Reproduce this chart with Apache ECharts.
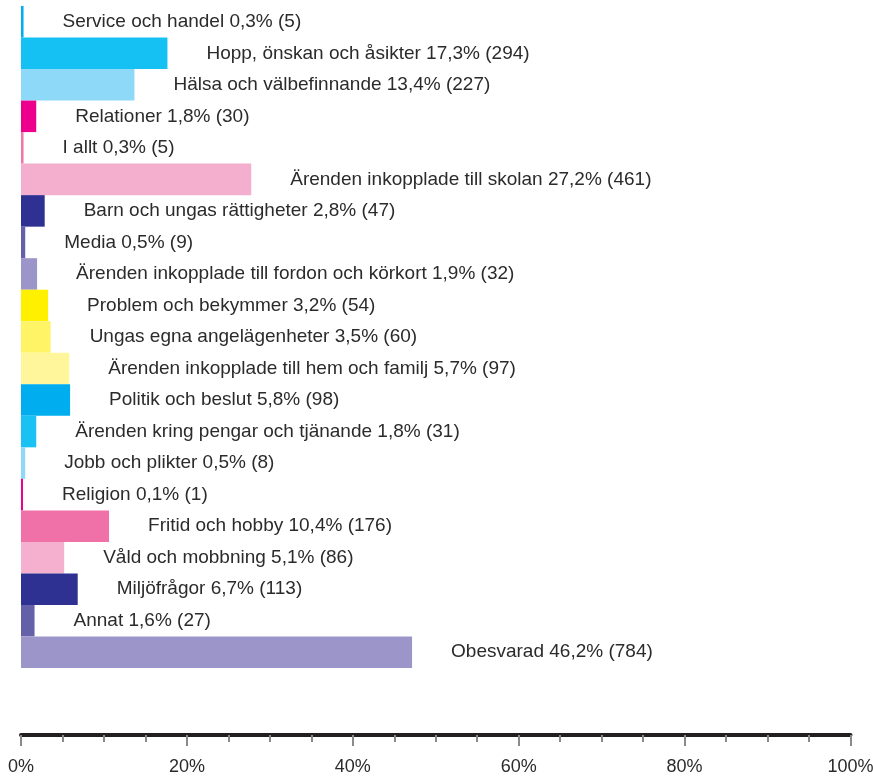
<!DOCTYPE html>
<html>
<head>
<meta charset="utf-8">
<script src="https://cdn.jsdelivr.net/npm/echarts@6/dist/echarts.min.js"></script>
<style>
  html, body { margin: 0; padding: 0; background: #fff; }
  #chart { width: 873px; height: 778px; }
</style>
</head>
<body>
<div id="chart"></div>
<script>
  // kategorier uppifrån och ner
  var categories = [
    'Service och handel', 'Hopp, önskan och åsikter', 'Hälsa och välbefinnande',
    'Relationer', 'I allt', 'Ärenden inkopplade till skolan',
    'Barn och ungas rättigheter', 'Media', 'Ärenden inkopplade till fordon och körkort',
    'Problem och bekymmer', 'Ungas egna angelägenheter', 'Ärenden inkopplade till hem och familj',
    'Politik och beslut', 'Ärenden kring pengar och tjänande', 'Jobb och plikter',
    'Religion', 'Fritid och hobby', 'Våld och mobbning',
    'Miljöfrågor', 'Annat', 'Obesvarad'
  ];
  var percents = [0.3, 17.3, 13.4, 1.8, 0.3, 27.2, 2.8, 0.5, 1.9, 3.2, 3.5, 5.7, 5.8, 1.8, 0.5, 0.1, 10.4, 5.1, 6.7, 1.6, 46.2];
  var counts = [5, 294, 227, 30, 5, 461, 47, 9, 32, 54, 60, 97, 98, 31, 8, 1, 176, 86, 113, 27, 784];
  var tickLabels = ['0%', '20%', '40%', '60%', '80%', '100%'];

  var colors = [
    '#00aeef', '#15c1f2', '#8ed8f8',
    '#ec008c', '#f075a8', '#f4aece',
    '#2e3192', '#6461a9', '#9b95c9',
    '#fff000', '#fff466', '#fff59b',
    '#00aeef', '#19c2f2', '#8fd8f8',
    '#ec008c', '#f070a8', '#f5afcf',
    '#2e3192', '#6461a9', '#9b95c9'
  ];

  var chart = echarts.init(document.getElementById('chart'));

  var option = {
    animation: false,
    grid: {
      left: 21,
      right: 22.5,
      top: 6,
      bottom: 110,
      outerBoundsMode: 'none',
      containLabel: false
    },
    xAxis: [
      {
        type: 'value',
        min: 0,
        max: 100,
        interval: 20,
        offset: 67,
        position: 'bottom',
        axisLine: { show: true, lineStyle: { color: '#231f20', width: 4 } },
        axisTick: { show: true, length: 11, lineStyle: { color: '#8a8a8a', width: 2 } },
        minorTick: { show: true, splitNumber: 4, length: 7, lineStyle: { color: '#8a8a8a', width: 2 } },
        splitLine: { show: false },
        axisLabel: {
          margin: 23,
          fontSize: 18,
          fontFamily: 'Liberation Sans',
          color: '#2b2b2b',
          formatter: function (v) { return tickLabels[Math.round(v / 20)]; }
        }
      },
      {
        // staplarna är ritade i lite större skala än axeln i originalet
        type: 'value',
        min: 0,
        max: 98,
        show: false,
        splitLine: { show: false }
      }
    ],
    yAxis: {
      type: 'category',
      data: categories,
      inverse: true,
      show: false
    },
    series: [
      {
        type: 'bar',
        xAxisIndex: 1,
        barCategoryGap: 0,
        barMinHeight: 2,
        data: percents.map(function (p, i) {
          return { value: p, itemStyle: { color: colors[i] } };
        }),
        label: {
          show: true,
          position: 'right',
          distance: 39,
          fontSize: 19,
          fontFamily: 'Liberation Sans',
          color: '#2b2b2b',
          formatter: function (p) {
            var i = p.dataIndex;
            return categories[i] + ' ' + percents[i].toFixed(1).replace('.', ',') + '% (' + counts[i] + ')';
          }
        }
      }
    ]
  };

  chart.setOption(option);
</script>
</body>
</html>
